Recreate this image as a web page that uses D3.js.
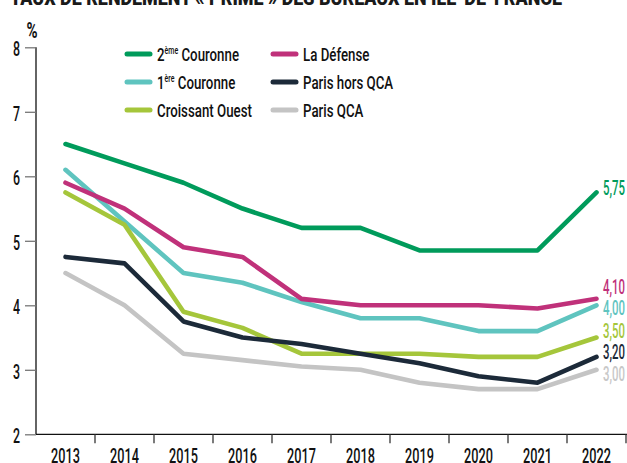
<!DOCTYPE html>
<html><head><meta charset="utf-8">
<script src="https://cdn.jsdelivr.net/npm/d3@7"></script>
<style>
body{margin:0;background:#fff}
svg{display:block}
text{font-family:Roboto,"DejaVu Sans",sans-serif}
</style>
</head><body>
<svg id="c" width="627" height="463" font-weight="500"></svg>
<script>
const years = [2013,2014,2015,2016,2017,2018,2019,2020,2021,2022];
const deuxiemeCouronne = [6.5,6.2,5.9,5.5,5.2,5.2,4.85,4.85,4.85,5.75];
const premiereCouronne = [6.1,5.3,4.5,4.35,4.05,3.8,3.8,3.6,3.6,4.0];
const croissantOuest = [5.75,5.25,3.9,3.65,3.25,3.25,3.25,3.2,3.2,3.5];
const laDefense = [5.9,5.5,4.9,4.75,4.1,4.0,4.0,4.0,3.95,4.1];
const parisHorsQCA = [4.75,4.65,3.75,3.5,3.4,3.25,3.1,2.9,2.8,3.2];
const parisQCA = [4.5,4.0,3.25,3.15,3.05,3.0,2.8,2.7,2.7,3.0];
const yTicks = [2,3,4,5,6,7,8];
const seriesNames = ["2ème Couronne","1ère Couronne","Croissant Ouest","La Défense","Paris hors QCA","Paris QCA"];
const endLabels = ["5,75","4,00","3,50","4,10","3,20","3,00"];

const colors = ["#009b5b","#5fc4bf","#a5c63b","#c0317a","#1c2a39","#c4c4c4"];
const labelColors = ["#009b5b","#5fc4bf","#a5c63b","#c0317a","#1c2a39","#c8c8c8"];
const labelNudge = [-5,3,-7,-12,-5,4];
const seriesValues = [deuxiemeCouronne,premiereCouronne,croissantOuest,laDefense,parisHorsQCA,parisQCA];

// horizontal condensing of text (reference uses a condensed face)
function squeeze(sel, s){
  sel.each(function(){
    const t = d3.select(this);
    const x0 = +(t.attr("x")||0);
    t.attr("x", x0/s).attr("transform", `scale(${s},1)`);
  });
}

const svg = d3.select("#c");
const x = d3.scaleBand().domain(years).range([36,626]);
const y = d3.scaleLinear().domain([2,8]).range([434.3,47.3]);

// title (cropped at top)
svg.append("text").attr("x",10).attr("y",5)
  .style("font-weight","900").attr("font-size",21).attr("fill","#1a1a1a")
  .attr("textLength",552).attr("lengthAdjust","spacingAndGlyphs")
  .text("TAUX DE RENDEMENT « PRIME » DES BUREAUX EN ÎLE-DE-FRANCE");

const pct = svg.append("text").attr("x",32).attr("y",38).attr("text-anchor","middle")
  .style("font-weight","bold").attr("font-size",22).attr("fill","#111").text("%");
squeeze(pct,0.68);

// y axis
const yAxis = svg.append("g").attr("transform","translate(36,0)")
  .call(d3.axisLeft(y).tickValues(yTicks).tickSize(11).tickPadding(5).tickFormat(d3.format("d")));
yAxis.select(".domain").attr("stroke","#111").attr("stroke-width",1.3).attr("d","M0,47.3V434.3");
yAxis.selectAll(".tick line").attr("stroke","#777").attr("stroke-width",1.3);
yAxis.selectAll(".tick text").attr("font-size",20).attr("fill","#111").attr("font-family",null).attr("dy","0.42em");
squeeze(yAxis.selectAll(".tick text"),0.62);

// x axis
const xAxis = svg.append("g").attr("transform","translate(0,434.3)")
  .call(d3.axisBottom(x).tickSize(0).tickPadding(14));
xAxis.select(".domain").attr("stroke","#111").attr("stroke-width",1.3).attr("d","M36,0H627");
xAxis.selectAll(".tick text").attr("font-size",20.5).attr("fill","#111").attr("font-family",null);
squeeze(xAxis.selectAll(".tick text"),0.62);
xAxis.selectAll(".sep").data(years.slice(1).concat(["end"])).enter().append("line")
  .attr("class","sep")
  .attr("x1",(d,i)=> i<years.length-1 ? x(d) : x(years[years.length-1])+x.bandwidth())
  .attr("x2",(d,i)=> i<years.length-1 ? x(d) : x(years[years.length-1])+x.bandwidth())
  .attr("y1",0).attr("y2",9).attr("stroke","#333").attr("stroke-width",1.3);

// lines
const line = d3.line().x((d,i)=>x(years[i])+x.bandwidth()/2).y(d=>y(d));
const drawOrder = [5,1,2,3,4,0];
drawOrder.forEach(k=>{
  svg.append("path").datum(seriesValues[k]).attr("d",line)
    .attr("fill","none").attr("stroke",colors[k]).attr("stroke-width",4.6)
    .attr("stroke-linecap","round").attr("stroke-linejoin","round");
});

// end labels
seriesValues.forEach((vals,k)=>{
  const t = svg.append("text").attr("x",x(years[9])+x.bandwidth()/2+6.5)
    .attr("y",y(vals[9])+labelNudge[k]).attr("dy","0.36em")
    .attr("font-size",20).attr("fill",labelColors[k]).text(endLabels[k]);
  squeeze(t,0.57);
});

// legend
const legX = [127,273], legY = [54,82,110];
seriesNames.forEach((name,k)=>{
  const col = Math.floor(k/3), row = k%3;
  const g = svg.append("g").attr("transform",`translate(${legX[col]},${legY[row]})`);
  g.append("line").attr("x1",0).attr("x2",23).attr("y1",0).attr("y2",0)
    .attr("stroke",colors[k]).attr("stroke-width",5).attr("stroke-linecap","round");
  const t = g.append("text").attr("x",30).attr("y",0).attr("dy","0.36em")
    .attr("font-size",19).attr("fill","#111");
  const m = name.match(/^(\d)(ème|ère)(.*)$/);
  if (m) {
    t.append("tspan").text(m[1]);
    t.append("tspan").attr("font-size",10).attr("dy",-7).text(m[2]);
    t.append("tspan").attr("dy",7).text(m[3]);
  } else t.text(name);
  squeeze(t,0.7);
});
</script>
</body></html>
